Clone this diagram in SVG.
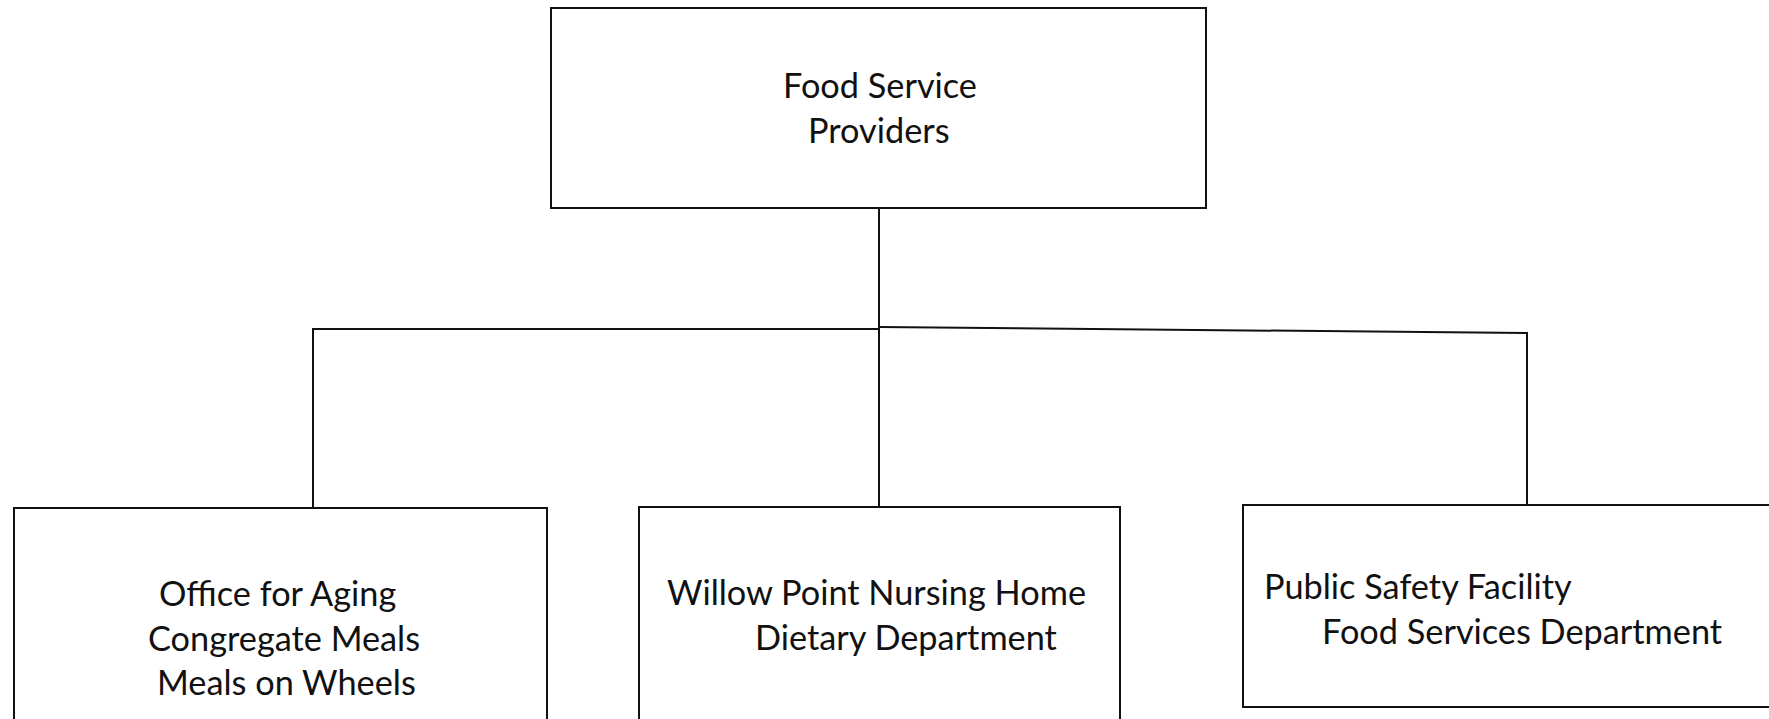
<svg xmlns="http://www.w3.org/2000/svg" width="1769" height="719" viewBox="0 0 1769 719">
<style>
.box{fill:#fff;stroke:#111;stroke-width:2}
.ln{fill:none;stroke:#111;stroke-width:2}
.t{font-family:Lato,"Liberation Sans",sans-serif;font-size:34.3px;fill:#111}
</style>
<rect width="1769" height="719" fill="#fff"/>
<g id="connectors">
<path class="ln" d="M879,208 L879,507"/>
<path class="ln" d="M313,507 L313,329 L879,329"/>
<path class="ln" d="M879,327 L1527,333 L1527,505"/>
</g>
<g id="n0">
<rect class="box" x="551" y="8" width="655" height="200"/>
<text class="t" x="783" y="98">Food Service</text>
<text class="t" x="808" y="143">Providers</text>
</g>
<g id="n1">
<rect class="box" x="14" y="508" width="533" height="230"/>
<text class="t" x="159" y="606">Office for Aging</text>
<text class="t" x="148" y="651">Congregate Meals</text>
<text class="t" x="157" y="695">Meals on Wheels</text>
</g>
<g id="n2">
<rect class="box" x="639" y="507" width="481" height="230"/>
<text class="t" x="667" y="605">Willow Point Nursing Home</text>
<text class="t" x="755" y="650">Dietary Department</text>
</g>
<g id="n3">
<rect class="box" x="1243" y="505" width="540" height="202"/>
<text class="t" x="1264" y="599">Public Safety Facility</text>
<text class="t" x="1322" y="644">Food Services Department</text>
</g>
</svg>
